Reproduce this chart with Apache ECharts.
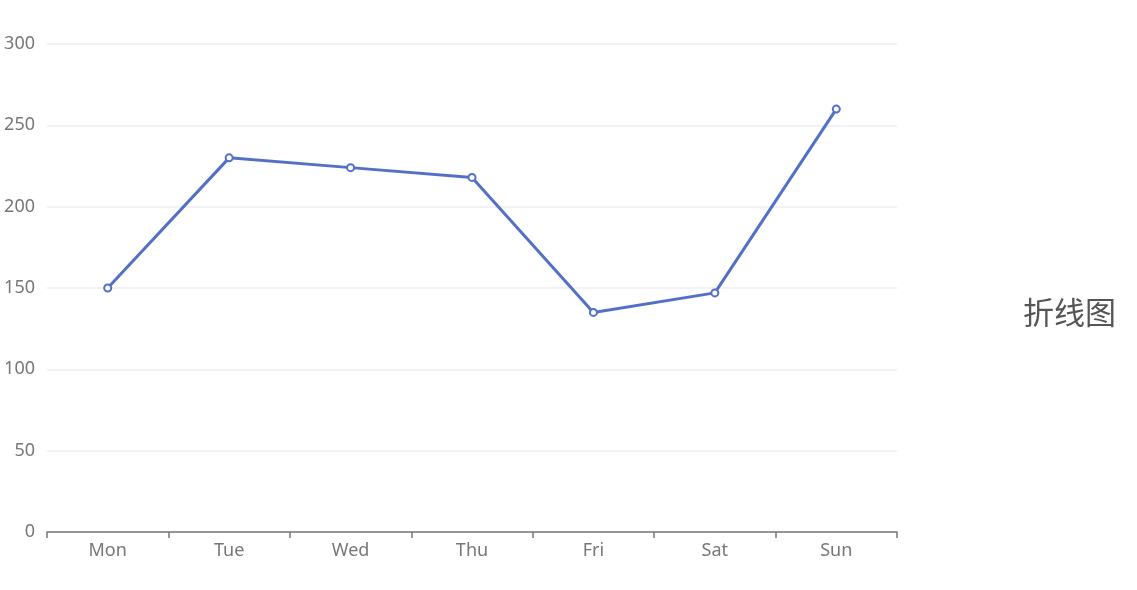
<!DOCTYPE html>
<html>
<head>
<meta charset="utf-8">
<script src="https://cdn.jsdelivr.net/npm/echarts@6/dist/echarts.min.js"></script>
<style>
    html, body { margin: 0; padding: 0; background: #fff; }
    #lineChart { width: 1137px; height: 590px; }
</style>
</head>
<body>
<div id="lineChart"></div>
<script>
const days = ['Mon', 'Tue', 'Wed', 'Thu', 'Fri', 'Sat', 'Sun'];
const values = [150, 230, 224, 218, 135, 147, 260];

const myChart = echarts.init(document.getElementById('lineChart'));
const option = {
    animation: false,
    textStyle: { fontFamily: 'Noto Sans' },
    grid: {
        top: 44,
        left: 47,
        right: 240,
        bottom: 58
    },
    graphic: [
        {
            type: 'text',
            left: 1023,
            top: 297,
            style: {
                text: '折线图',
                fontSize: 31,
                fill: '#555',
                fontFamily: 'Noto Sans CJK SC'
            }
        }
    ],
    xAxis: {
        type: 'category',
        data: days,
        axisLine: { lineStyle: { color: '#777', width: 1.5 } },
        axisTick: { show: true, length: 6, lineStyle: { color: '#777', width: 1.5 } },
        axisLabel: { fontSize: 18, margin: 10, color: '#777', fontFamily: 'Noto Sans' }
    },
    yAxis: {
        type: 'value',
        min: 0,
        max: 300,
        interval: 50,
        axisLabel: { fontSize: 18, margin: 12, color: '#777', fontFamily: 'Noto Sans' },
        splitLine: { lineStyle: { color: '#eceef3', width: 1.5 } }
    },
    series: [
        {
            type: 'line',
            data: values,
            symbol: 'emptyCircle',
            symbolSize: 7,
            lineStyle: { width: 3, color: '#5470c6' },
            itemStyle: { color: '#5470c6', borderWidth: 2.5 }
        }
    ]
};
myChart.setOption(option);
</script>
</body>
</html>
